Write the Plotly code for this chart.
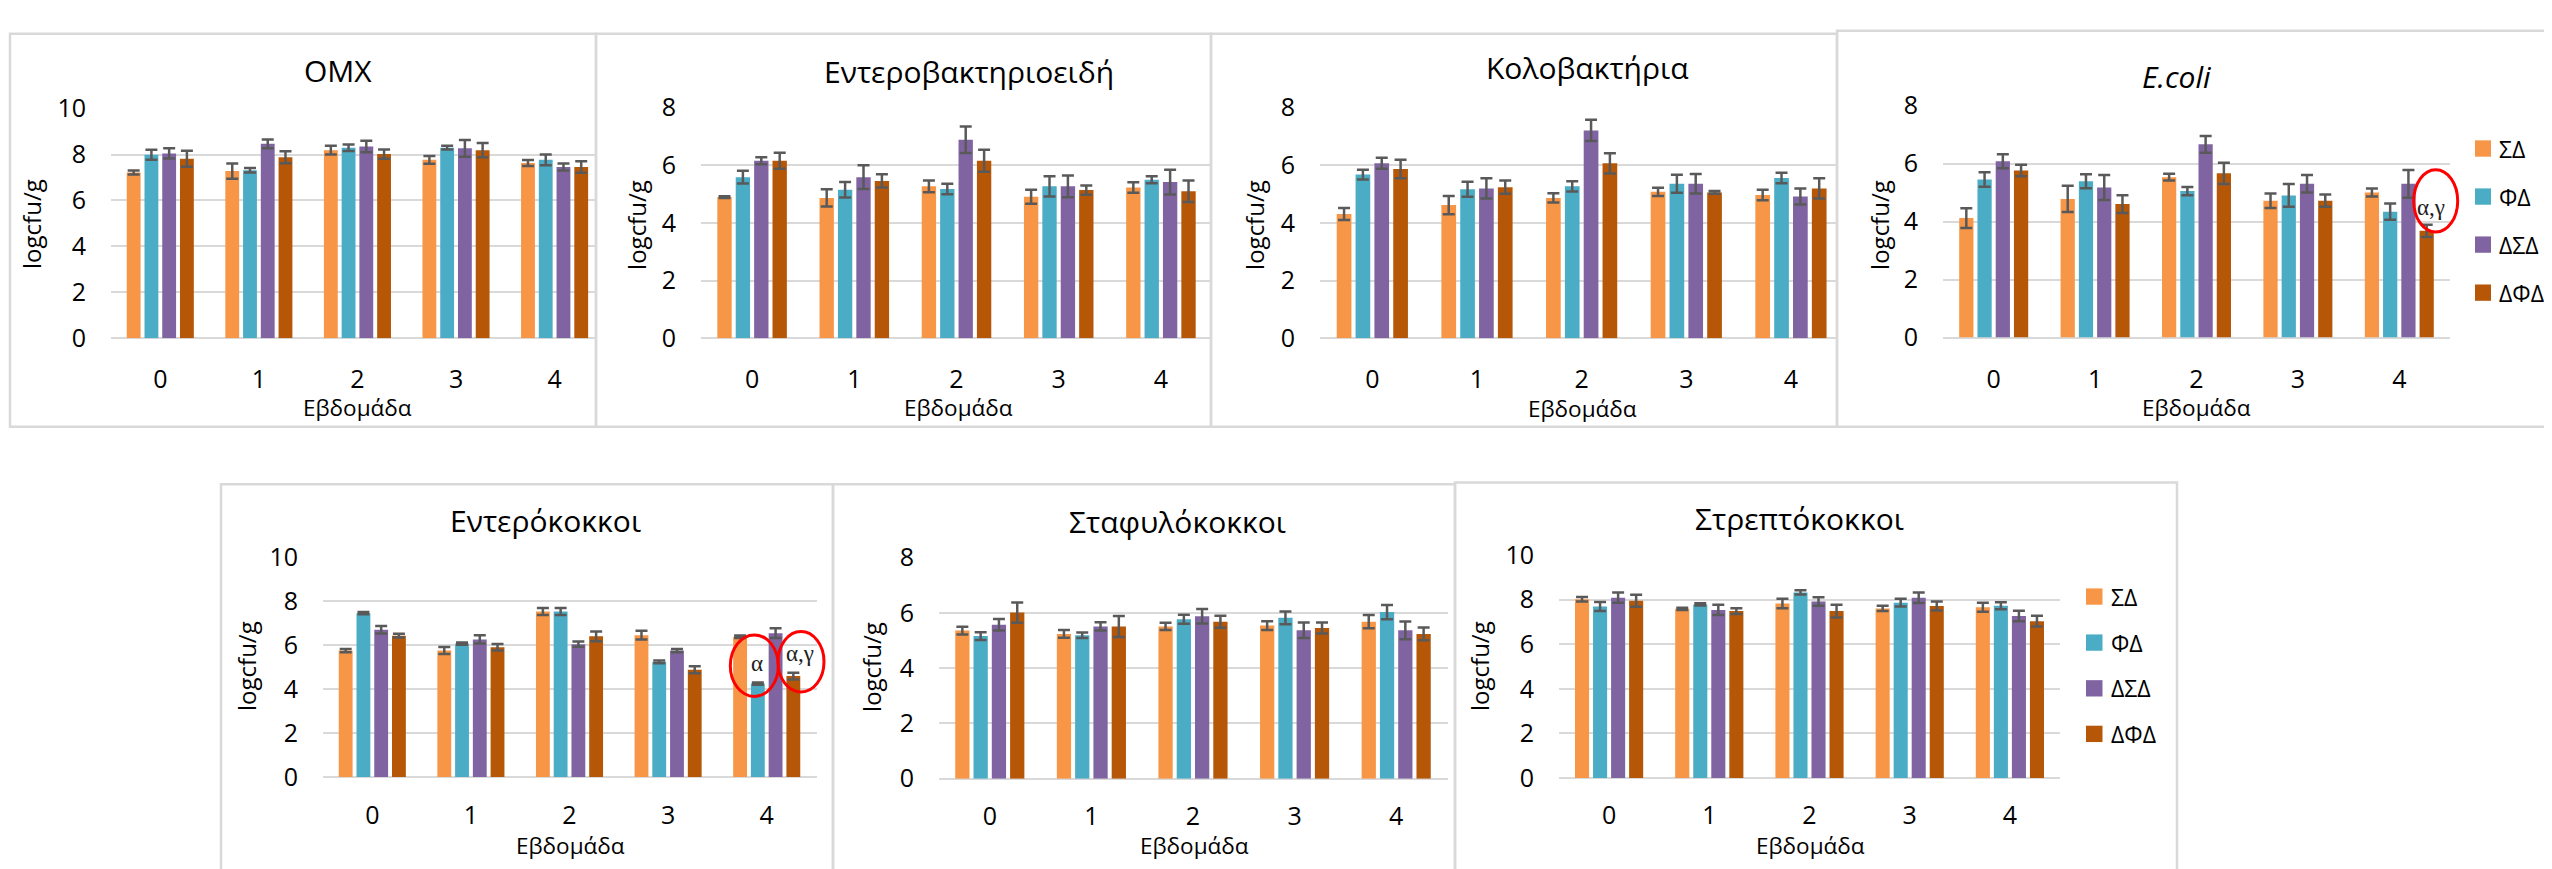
import plotly.graph_objects as go

W, H = 2552, 869

weeks = ["0", "1", "2", "3", "4"]
groups = ["ΣΔ", "ΦΔ", "ΔΣΔ", "ΔΦΔ"]
colors = ["#F79646", "#4BACC6", "#8064A2", "#B65708"]

# ---- data: rows = ΣΔ, ΦΔ, ΔΣΔ, ΔΦΔ ; columns = weeks 0..4 ----
omx_mean = [[7.22, 7.28, 8.19, 7.77, 7.63],
            [7.99, 7.32, 8.30, 8.30, 7.77],
            [8.05, 8.47, 8.35, 8.27, 7.46],
            [7.82, 7.88, 8.02, 8.19, 7.46]]
omx_err = [[0.09, 0.33, 0.19, 0.17, 0.13],
           [0.22, 0.10, 0.14, 0.08, 0.23],
           [0.22, 0.19, 0.25, 0.36, 0.15],
           [0.35, 0.26, 0.20, 0.31, 0.25]]

enterobact_mean = [[4.90, 4.87, 5.27, 4.91, 5.23],
                   [5.59, 5.15, 5.18, 5.27, 5.50],
                   [6.16, 5.59, 6.89, 5.27, 5.42],
                   [6.16, 5.46, 6.16, 5.14, 5.10]]
enterobact_err = [[0.03, 0.30, 0.20, 0.24, 0.18],
                  [0.22, 0.27, 0.18, 0.35, 0.12],
                  [0.12, 0.41, 0.46, 0.38, 0.43],
                  [0.28, 0.23, 0.38, 0.16, 0.37]]

coliform_mean = [[4.31, 4.62, 4.87, 5.08, 4.97],
                 [5.68, 5.17, 5.27, 5.36, 5.56],
                 [6.07, 5.20, 7.21, 5.36, 4.92],
                 [5.87, 5.24, 6.07, 5.06, 5.20]]
coliform_err = [[0.21, 0.32, 0.16, 0.14, 0.18],
                [0.17, 0.26, 0.18, 0.31, 0.18],
                [0.19, 0.35, 0.37, 0.34, 0.28],
                [0.32, 0.23, 0.35, 0.05, 0.35]]

ecoli_mean = [[4.12, 4.78, 5.53, 4.72, 5.00],
              [5.45, 5.39, 5.05, 4.90, 4.34],
              [6.08, 5.17, 6.66, 5.30, 5.30],
              [5.76, 4.60, 5.66, 4.72, 3.68]]
ecoli_err = [[0.34, 0.45, 0.12, 0.25, 0.14],
             [0.25, 0.24, 0.14, 0.39, 0.28],
             [0.24, 0.43, 0.29, 0.30, 0.48],
             [0.20, 0.31, 0.37, 0.21, 0.21]]

enterococ_mean = [[5.75, 5.75, 7.53, 6.45, 6.38],
                  [7.45, 6.07, 7.53, 5.24, 4.25],
                  [6.70, 6.26, 6.04, 5.75, 6.54],
                  [6.43, 5.90, 6.40, 4.88, 4.59]]
enterococ_err = [[0.07, 0.16, 0.16, 0.20, 0.06],
                 [0.05, 0.05, 0.16, 0.06, 0.05],
                 [0.17, 0.19, 0.12, 0.07, 0.22],
                 [0.08, 0.15, 0.22, 0.16, 0.15]]

staph_mean = [[5.36, 5.24, 5.51, 5.54, 5.68],
              [5.16, 5.19, 5.77, 5.82, 6.03],
              [5.57, 5.51, 5.88, 5.37, 5.37],
              [6.01, 5.51, 5.68, 5.45, 5.24]]
staph_err = [[0.14, 0.14, 0.13, 0.16, 0.24],
             [0.14, 0.10, 0.16, 0.23, 0.26],
             [0.21, 0.15, 0.26, 0.28, 0.32],
             [0.37, 0.38, 0.22, 0.20, 0.23]]

strep_mean = [[8.02, 7.59, 7.83, 7.61, 7.66],
              [7.70, 7.79, 8.33, 7.87, 7.73],
              [8.09, 7.54, 7.92, 8.09, 7.27],
              [7.95, 7.49, 7.49, 7.72, 7.04]]
strep_err = [[0.10, 0.05, 0.21, 0.12, 0.20],
             [0.20, 0.05, 0.09, 0.17, 0.16],
             [0.23, 0.23, 0.19, 0.24, 0.24],
             [0.27, 0.13, 0.29, 0.20, 0.24]]

titles = ["OMX", "Εντεροβακτηριοειδή", "Κολοβακτήρια", "<i>E.coli</i>",
          "Εντερόκοκκοι", "Σταφυλόκοκκοι", "Στρεπτόκοκκοι"]
y_title = "logcfu/g"
x_title = "Εβδομάδα"

# ---- layout (pixels) ----
FONT = "Open Sans"
panels = [
    dict(m=omx_mean, e=omx_err, ymax=10, x0=103, x1=588, xend=4.42, yb=325, yt=86, so=24,
         box=(2, 8, 588, 417), tp=(330, 46.5), yp=(24, 206), xp=(349, 397)),
    dict(m=enterobact_mean, e=enterobact_err, ymax=8, x0=693, x1=1203, xend=4.49, yb=325, yt=85, so=24,
         box=(588, 8, 1203, 417), tp=(960.5, 47.5), yp=(629, 207), xp=(950, 397)),
    dict(m=coliform_mean, e=coliform_err, ymax=8, x0=1312, x1=1829, xend=4.44, yb=325, yt=85, so=24,
         box=(1203, 8, 1829, 417), tp=(1579, 43), yp=(1247, 207), xp=(1574, 398)),
    dict(m=ecoli_mean, e=ecoli_err, ymax=8, x0=1935, x1=2442, xend=4.5, yb=324.3, yt=82.7, so=24,
         box=(1829, 5, 2550.5, 417), tp=(2168, 53), yp=(1872, 207), xp=(2188, 397)),
    dict(m=enterococ_mean, e=enterococ_err, ymax=10, x0=315, x1=809, xend=4.51, yb=781.7, yt=552.7, so=21,
         box=(213, 477, 825, 880), tp=(537.4, 515), yp=(239, 666), xp=(562, 852.5)),
    dict(m=staph_mean, e=staph_err, ymax=8, x0=931, x1=1440, xend=4.51, yb=783.3, yt=553.3, so=20,
         box=(825, 477, 1447, 880), tp=(1169.6, 516), yp=(864, 667), xp=(1186, 853)),
    dict(m=strep_mean, e=strep_err, ymax=10, x0=1551, x1=2052, xend=4.5, yb=782.7, yt=550.7, so=20,
         box=(1447, 475, 2169, 880), tp=(1791.7, 513), yp=(1472, 666), xp=(1802, 853)),
]


def fx(x):
    return x / W


def fy(y):
    return 1 - y / H


fig = go.Figure()
layout = dict(
    width=W, height=H, margin=dict(l=0, r=0, t=0, b=0),
    paper_bgcolor="white", plot_bgcolor="white",
    barmode="group", bargap=0.28, bargroupgap=0.22,
    showlegend=False, font=dict(family=FONT, color="#000000"),
)
shapes = []
annotations = []
xs = list(range(len(weeks)))

for i, p in enumerate(panels):
    k = "" if i == 0 else str(i + 1)
    for s in range(4):
        fig.add_trace(go.Bar(
            x=xs, y=p["m"][s], name=groups[s],
            marker=dict(color=colors[s], line=dict(width=0)),
            error_y=dict(type="data", array=p["e"][s], visible=True,
                         color="#595959", thickness=2.5, width=6),
            xaxis="x" + k, yaxis="y" + k,
        ))
    layout["xaxis" + k] = dict(
        domain=[fx(p["x0"]), fx(p["x1"])], range=[-0.5, p["xend"]],
        tickvals=xs, ticktext=weeks, showgrid=False, zeroline=False, showline=False,
        ticks="", tickfont=dict(size=25, family=FONT, color="#000000"),
        ticklabelstandoff=p["so"], anchor="y" + k, fixedrange=True,
    )
    layout["yaxis" + k] = dict(
        domain=[fy(p["yb"]), fy(p["yt"])], range=[0, p["ymax"]], dtick=2,
        showgrid=True, gridcolor="#D9D9D9", gridwidth=2,
        zeroline=True, zerolinecolor="#D9D9D9", zerolinewidth=2, showline=False,
        ticks="", tickfont=dict(size=25, family=FONT, color="#000000"),
        ticklabelstandoff=24, anchor="x" + k, fixedrange=True,
    )
    bx0, by0, bx1, by1 = p["box"]
    shapes.append(dict(type="rect", xref="paper", yref="paper",
                       x0=fx(bx0), x1=fx(bx1), y0=fy(by1), y1=fy(by0),
                       line=dict(color="#D9D9D9", width=2.5), fillcolor="rgba(0,0,0,0)",
                       layer="below"))
    annotations.append(dict(text=titles[i], x=fx(p["tp"][0]), y=fy(p["tp"][1]),
                            xref="paper", yref="paper", showarrow=False,
                            xanchor="center", yanchor="middle",
                            font=dict(size=30, family=FONT, color="#000000")))
    annotations.append(dict(text=y_title, x=fx(p["yp"][0]), y=fy(p["yp"][1]),
                            xref="paper", yref="paper", showarrow=False, textangle=-90,
                            xanchor="center", yanchor="middle",
                            font=dict(size=24, family=FONT, color="#000000")))
    annotations.append(dict(text=x_title, x=fx(p["xp"][0]), y=fy(p["xp"][1]),
                            xref="paper", yref="paper", showarrow=False,
                            xanchor="center", yanchor="middle", borderpad=0,
                            font=dict(size=22.5, family=FONT, color="#000000")))

# ---- custom legends (panel 4 and panel 7) ----
legends = [dict(sx=2467, sw=16, ys=[127.5, 177.5, 227.5, 277.5], tx=2489),
           dict(sx=2078, sw=16.5, ys=[593.8, 641.7, 689.3, 736.7], tx=2100.5)]
for lg in legends:
    for s in range(4):
        yc = lg["ys"][s]
        shapes.append(dict(type="rect", xref="paper", yref="paper",
                           x0=fx(lg["sx"]), x1=fx(lg["sx"] + lg["sw"]),
                           y0=fy(yc + 8.5), y1=fy(yc - 8.5),
                           line=dict(width=0), fillcolor=colors[s]))
        annotations.append(dict(text=groups[s], x=fx(lg["tx"]), y=fy(yc),
                                xref="paper", yref="paper", showarrow=False,
                                xanchor="left", yanchor="middle",
                                font=dict(size=23, family=FONT, color="#000000")))

# ---- significance marks (red ellipses) ----
marks = [dict(c=(2427.7, 182), w=44, h=65, t="α,γ", tp=(2423, 189)),
         dict(c=(746.3, 665.7), w=48, h=64, t="α", tp=(749, 663)),
         dict(c=(793, 661.7), w=46, h=63, t="α,γ", tp=(791.7, 653))]
for mk in marks:
    cx, cy = mk["c"]
    shapes.append(dict(type="circle", xref="paper", yref="paper",
                       x0=fx(cx - mk["w"] / 2), x1=fx(cx + mk["w"] / 2),
                       y0=fy(cy + mk["h"] / 2), y1=fy(cy - mk["h"] / 2),
                       line=dict(color="#FF0000", width=3), layer="above"))
    annotations.append(dict(text=mk["t"], x=fx(mk["tp"][0]), y=fy(mk["tp"][1]),
                            xref="paper", yref="paper", showarrow=False,
                            xanchor="center", yanchor="middle",
                            font=dict(size=23, family="Liberation Serif", color="#222222")))

layout["shapes"] = shapes
layout["annotations"] = annotations
fig.update_layout(**layout)
fig.write_html("out.html")
